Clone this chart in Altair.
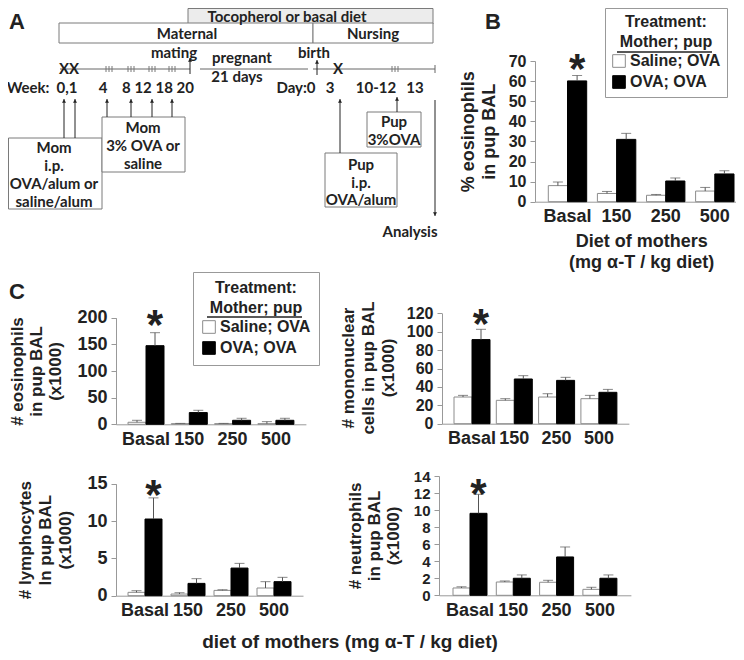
import altair as alt
import pandas as pd

W, H = 728, 644          # canvas (page minus 8px margins)
OX, OY = 8, 8            # reference-pixel offset of the canvas
CF = "Liberation Sans"   # chart font (Arial-like)
DF = "Lato"              # diagram font (Calibri-like)

# ---------------- data ----------------
diets = ["Basal", "150", "250", "500"]
groups = ["Saline; OVA", "OVA; OVA"]

# B: % eosinophils in pup BAL
b_saline = [8.0, 4.1, 3.2, 5.3]
b_saline_err = [1.8, 1.0, 0.4, 1.8]
b_ova = [60.1, 31.0, 10.3, 13.8]
b_ova_err = [2.7, 3.0, 1.5, 1.6]

# C: # eosinophils (x1000)
ce_saline = [3.8, 1.2, 1.2, 1.2]
ce_saline_err = [3.7, 0.5, 0.5, 3.8]
ce_ova = [147.5, 22.0, 7.5, 7.5]
ce_ova_err = [24.4, 4.3, 3.8, 3.8]

# C: # mononuclear cells (x1000)
cm_saline = [29.0, 25.4, 29.0, 27.2]
cm_saline_err = [1.8, 1.8, 3.6, 3.6]
cm_ova = [91.4, 48.6, 47.1, 34.1]
cm_ova_err = [11.2, 3.6, 3.3, 3.2]

# C: # lymphocytes (x1000)
cl_saline = [0.45, 0.22, 0.71, 1.03]
cl_saline_err = [0.22, 0.18, 0.09, 0.85]
cl_ova = [10.27, 1.65, 3.70, 1.88]
cl_ova_err = [2.83, 0.63, 0.63, 0.58]

# C: # neutrophils (x1000)
cn_saline = [0.86, 1.56, 1.53, 0.70]
cn_saline_err = [0.14, 0.12, 0.23, 0.24]
cn_ova = [9.62, 2.00, 4.50, 2.00]
cn_ova_err = [2.23, 0.39, 1.17, 0.39]

# ---------------- panel A schematic (layout in reference pixels) ----------------
box_x1 = [188, 59, 313, 8.5, 102, 367, 325]
box_y1 = [8.5, 23, 23, 138, 117, 112, 153]
box_x2 = [433, 313, 433, 102, 185, 421, 397]
box_y2 = [24, 43, 43, 209, 172, 147, 207]
box_fill = ["#ececec", "white", "white", "white", "white", "white", "white"]

diag_text = ["Tocopherol or basal diet", "Maternal", "Nursing", "mating", "pregnant",
             "21 days", "birth", "XX", "X", "Week:", "0,1", "4", "8 12 18 20",
             "Day:0", "3", "10-12", "13",
             "Mom", "i.p.", "OVA/alum or", "saline/alum",
             "Mom", "3% OVA or", "saline",
             "Pup", "3%OVA",
             "Pup", "i.p.", "OVA/alum", "Analysis"]
diag_tx = [287, 187, 373, 174, 242, 237, 314, 69, 338, 28, 67, 103, 158,
           296, 330, 376, 415,
           54, 54, 54, 54,
           143, 143, 143,
           394, 394,
           361, 361, 361, 410]
diag_ty = [17, 34, 34, 53, 58, 77, 53, 69, 69, 88, 88, 88, 88,
           88, 88, 88, 88,
           148, 166, 184, 202,
           128, 146, 164,
           122, 140,
           165, 183, 200, 232]

line_x1 = [60, 200, 313, 435]
line_x2 = [190, 308, 435, 435]
line_y1 = [69, 69, 69, 65]
line_y2 = [69, 69, 69, 73]

arrow_x = [64, 75, 107, 131, 152, 172, 340, 397, 190, 317, 435]
arrow_from = [138, 138, 117, 117, 117, 117, 153, 112, 74, 75, 100]
arrow_to = [99, 99, 99, 99, 99, 99, 99, 97, 58, 60, 216]

tickgroup_x = [109, 131, 152, 172, 395]

label_text = ["A", "B", "C"]
label_x = [17, 493, 17]
label_y = [22, 22, 292]

underline_x1 = [617, 207]
underline_x2 = [712, 302]
underline_y = [52, 317]

# rotated y-axis titles of the right-hand C panels (one row per line)
rtitle_text = ["# mononuclear", "cells in pup BAL", "(x1000)",
               "# neutrophils", "in pup BAL", "(x1000)"]
rtitle_x = [349, 369, 389, 356, 375, 394]
rtitle_y = [368, 368, 368, 536, 536, 536]

# ---------------- diagram layer ----------------
dxs = alt.Scale(domain=[OX, OX + W], range=[0, W], nice=False, zero=False)
dys = alt.Scale(domain=[OY, OY + H], range=[0, H], nice=False, zero=False)


def DX(f):
    return alt.X(f, type="quantitative", scale=dxs, axis=None)


def DY(f):
    return alt.Y(f, type="quantitative", scale=dys, axis=None)


boxes = alt.Chart(pd.DataFrame({"x": box_x1, "x2": box_x2, "y": box_y1, "y2": box_y2,
                                "fill": box_fill})).mark_rect(stroke="#7a7a7a", strokeWidth=1).encode(
    x=DX("x"), x2="x2", y=DY("y"), y2="y2", fill=alt.Fill("fill:N", scale=None))

lines = alt.Chart(pd.DataFrame({"x": line_x1, "x2": line_x2, "y": line_y1, "y2": line_y2})).mark_rule(
    color="#666", strokeWidth=1).encode(x=DX("x"), x2="x2", y=DY("y"), y2="y2")

tk_x, tk_y, tk_y2 = [], [], []
for gx in tickgroup_x:
    for d in (-3, 0, 3):
        tk_x.append(gx + d)
        tk_y.append(66)
        tk_y2.append(72)
ticks3 = alt.Chart(pd.DataFrame({"x": tk_x, "y": tk_y, "y2": tk_y2})).mark_rule(
    color="#777", strokeWidth=1).encode(x=DX("x"), y=DY("y"), y2="y2")

arr_df = pd.DataFrame({"x": arrow_x, "y": arrow_from, "y2": arrow_to})
arrows = alt.Chart(arr_df).mark_rule(color="#222", strokeWidth=1).encode(x=DX("x"), y=DY("y"), y2="y2")
head_df = pd.DataFrame({
    "x": arrow_x,
    "y": [t + 2 if t < f else t - 2 for f, t in zip(arrow_from, arrow_to)],
    "shape": ["triangle-up" if t < f else "triangle-down" for f, t in zip(arrow_from, arrow_to)],
})
heads = alt.Chart(head_df).mark_point(filled=True, size=16, color="#222", opacity=1).encode(
    x=DX("x"), y=DY("y"), shape=alt.Shape("shape:N", scale=None))

dtext = alt.Chart(pd.DataFrame({"x": diag_tx, "y": diag_ty, "t": diag_text})).mark_text(
    font=DF, fontWeight="bold", fontSize=15, align="center", baseline="middle", color="#222").encode(
    x=DX("x"), y=DY("y"), text="t:N")

plabels = alt.Chart(pd.DataFrame({"x": label_x, "y": label_y, "t": label_text})).mark_text(
    font=CF, fontWeight="bold", fontSize=22, align="center", baseline="middle", color="#222").encode(
    x=DX("x"), y=DY("y"), text="t:N")

rtitles = alt.Chart(pd.DataFrame({"x": rtitle_x, "y": rtitle_y, "t": rtitle_text})).mark_text(
    font=CF, fontWeight="bold", fontSize=17, align="center", baseline="middle", angle=270,
    color="#222").encode(x=DX("x"), y=DY("y"), text="t:N")

bottom_label = alt.Chart(pd.DataFrame({"x": [350], "y": [642],
                                       "t": ["diet of mothers (mg \u03b1-T / kg diet)"]})).mark_text(
    font=CF, fontWeight="bold", fontSize=19, align="center", baseline="middle", color="#222").encode(
    x=DX("x"), y=DY("y"), text="t:N")

underlines = alt.Chart(pd.DataFrame({"x": underline_x1, "x2": underline_x2, "y": underline_y})).mark_rule(
    color="#222", strokeWidth=1.3).encode(x=DX("x"), x2="x2", y=DY("y"))

diagram = alt.layer(boxes, lines, ticks3, arrows, heads, dtext, plabels, rtitles, bottom_label, underlines)


# ---------------- bar panels ----------------
def legend_box(lx, ly, pad):
    return alt.Legend(
        orient="none", legendX=lx, legendY=ly,
        title=["Treatment:", "Mother; pup"], titleAlign="center", titleAnchor="middle",
        titleFont=CF, titleFontSize=16, titleFontWeight="bold", titleColor="#222",
        titleLineHeight=20, titlePadding=3,
        labelFont=CF, labelFontSize=16, labelFontWeight="bold", labelColor="#222", labelOffset=3,
        symbolType="square", symbolSize=160, symbolStrokeColor="#333", symbolStrokeWidth=1,
        rowPadding=3, padding=pad, strokeColor="#999", cornerRadius=0)


def panel(sal, sal_e, ova, ova_e, x0, c0, step, pair, ybase, ytop, ymax, yticks,
          ytitle, ylab_fs, ytitle_fs, ytitle_pad, ytitle_lh, xtitle=None, legend=None, star_dy=10):
    rows = []
    for i, d in enumerate(diets):
        rows.append({"diet": d, "group": groups[0], "value": sal[i], "top": sal[i] + sal_e[i], "star": 0})
        rows.append({"diet": d, "group": groups[1], "value": ova[i], "top": ova[i] + ova_e[i],
                     "star": int(d == "Basal")})
    df = pd.DataFrame(rows)
    pi = 1 - pair / step
    po = (c0 - x0 - pair / 2) / step
    total = step * (4 - pi + 2 * po)
    xscale = alt.Scale(domain=diets, range=[x0 - OX, x0 - OX + total], paddingInner=pi, paddingOuter=po)
    yscale = alt.Scale(domain=[0, ymax], range=[ybase - OY, ytop - OY], nice=False, zero=True)
    xaxis_kw = dict(orient="bottom", offset=(ybase - OY) - H, ticks=False, labelAngle=0, labelPadding=6,
                    labelFontSize=18, labelFont=CF, labelFontWeight="bold", labelColor="#222",
                    domainColor="#999", domainWidth=1)
    if xtitle:
        xaxis_kw.update(titleFont=CF, titleFontSize=18, titleFontWeight="bold", titleColor="#222",
                        titleLineHeight=21, titlePadding=7)
        x = alt.X("diet:N", scale=xscale, axis=alt.Axis(**xaxis_kw), title=xtitle)
    else:
        x = alt.X("diet:N", scale=xscale, axis=alt.Axis(**xaxis_kw), title=None)
    yaxis = alt.Axis(
        orient="left", offset=-(x0 - OX), values=yticks, grid=False, tickSize=5, tickColor="#999",
        domainColor="#999", labelFontSize=ylab_fs, labelFont=CF, labelFontWeight="bold", labelColor="#222",
        labelPadding=4, labelFlush=False, labelOverlap=False,
        titleFont=CF, titleFontSize=ytitle_fs, titleFontWeight="bold", titleColor="#222",
        titlePadding=ytitle_pad, titleLineHeight=ytitle_lh)
    if ytitle:
        y_val = alt.Y("value:Q", scale=yscale, title=ytitle, axis=yaxis)
        y_top = alt.Y("top:Q", scale=yscale, title=ytitle, axis=yaxis)
    else:
        y_val = alt.Y("value:Q", scale=yscale, title=None, axis=yaxis)
        y_top = alt.Y("top:Q", scale=yscale, title=None, axis=yaxis)
    xo = alt.XOffset("group:N", scale=alt.Scale(domain=groups))
    fill = alt.Fill("group:N", scale=alt.Scale(domain=groups, range=["white", "black"]), legend=legend)
    stroke = alt.Stroke("group:N", scale=alt.Scale(domain=groups, range=["#8c8c8c", "black"]), legend=None)
    base = alt.Chart(df)
    bars = base.mark_bar(strokeWidth=1).encode(x=x, xOffset=xo, y=y_val, fill=fill, stroke=stroke)
    err = base.mark_rule(color="#555", strokeWidth=1).encode(x=x, xOffset=xo, y=y_val, y2="top:Q")
    cap = base.mark_tick(color="#555", size=10, thickness=1).encode(x=x, xOffset=xo, y=y_top)
    star = base.transform_filter("datum.star == 1").mark_text(
        text="*", font=CF, fontWeight="bold", fontSize=42, baseline="alphabetic", align="center",
        dy=star_dy, color="#222").encode(x=x, xOffset=xo, y=y_top)
    return alt.layer(bars, err, cap, star)


pB = panel(b_saline, b_saline_err, b_ova, b_ova_err, 535, 567.5, 49.1, 38.4, 201.7, 61, 70,
           [0, 10, 20, 30, 40, 50, 60, 70], ["% eosinophils", "in pup BAL"], 16, 18, 10, 21,
           xtitle=["Diet of mothers", "(mg \u03b1-T / kg diet)"], legend=legend_box(597, 0, 6), star_dy=8)
pC1 = panel(ce_saline, ce_saline_err, ce_ova, ce_ova_err, 116, 146, 43.3, 36, 424.3, 317.7, 200,
            [0, 50, 100, 150, 200], ["# eosinophils", "in pup BAL", "(x1000)"], 18, 17, 12, 19,
            legend=legend_box(185, 264, 8), star_dy=6)
pC2 = panel(cm_saline, cm_saline_err, cm_ova, cm_ova_err, 442, 472, 42.3, 36, 423.7, 313.3, 120,
            [0, 20, 40, 60, 80, 100, 120], None, 16, 17, 7, 20, star_dy=9)
pC3 = panel(cl_saline, cl_saline_err, cl_ova, cl_ova_err, 116, 145, 43, 34, 595.7, 483.7, 15,
            [0, 5, 10, 15], ["# lymphocytes", "In pup BAL", "(x1000)"], 18, 17, 12, 20, star_dy=11)
pC4 = panel(cn_saline, cn_saline_err, cn_ova, cn_ova_err, 439, 470, 43.3, 34, 595.3, 476, 14,
            [0, 2, 4, 6, 8, 10, 12, 14], None, 15, 17, 6, 20, star_dy=14)

chart = alt.layer(diagram, pB, pC1, pC2, pC3, pC4).resolve_scale(
    x="independent", y="independent", xOffset="independent", fill="independent", stroke="independent"
).resolve_axis(x="independent", y="independent").resolve_legend(
    fill="independent", stroke="independent"
).properties(
    width=W, height=H, autosize=alt.AutoSizeParams(type="none"), padding=0
).configure_view(strokeWidth=0)

chart.save("out.html", embed_options={"renderer": "svg", "actions": False})
